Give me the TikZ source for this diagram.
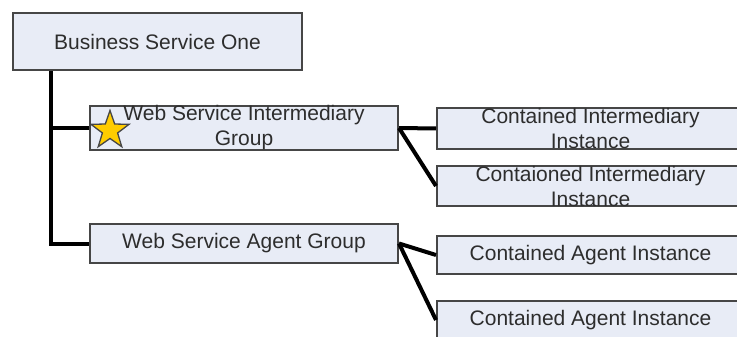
\documentclass[tikz,border=0pt]{standalone}
\usepackage{fontspec}
\setmainfont{Liberation Sans}
\usetikzlibrary{shapes.geometric}
\definecolor{boxfill}{RGB}{232,236,246}
\definecolor{boxline}{RGB}{70,70,70}
\definecolor{txt}{RGB}{45,45,45}
\definecolor{stargold}{RGB}{255,204,0}
\tikzset{
  tree box/.style={draw=boxline, line width=2pt, fill=boxfill, text=txt,
    align=center, inner sep=0pt, font=\fontsize{21}{25}\selectfont},
  conn/.style={draw=black, line width=4pt},
  flag/.style={star, star points=5, star point ratio=2.5, minimum size=40pt,
    inner sep=0pt, draw=boxline, line width=1.3pt, fill=stargold}
}
\begin{document}
\begin{tikzpicture}[x=1pt, y=-1pt]
  \useasboundingbox (0,0) rectangle (737,337);
  \clip (0,0) rectangle (737,337);
  \fill[white] (0,0) rectangle (737,337);

  % service hierarchy boxes
  \node[tree box, minimum width=289pt, minimum height=57pt] (bso) at (157.5,41.5) {Business Service One};
  \node[tree box, minimum width=308pt, minimum height=40pt] (wsig) at (244,128) {Web Service Intermediary\\Group};
  \node[tree box, minimum width=308pt, minimum height=39pt] (wsag) at (244,243.5) {Web Service Agent Group};
  \node[tree box, minimum width=307pt, minimum height=39pt] (cii1) at (590.5,128.5) {Contained Intermediary\\Instance};
  \node[tree box, minimum width=307pt, minimum height=38pt] (cii2) at (590.5,186) {Contaioned Intermediary\\Instance};
  \node[tree box, minimum width=307pt, minimum height=38pt] (cai1) at (590.5,255) {Contained Agent Instance};
  \node[tree box, minimum width=307pt, minimum height=38pt] (cai2) at (590.5,320) {Contained Agent Instance};

  % trunk from the business service down to the groups
  \coordinate (trunk) at ([xshift=39pt]bso.south west);
  \draw[conn] (trunk) |- (wsag.west);
  \draw[conn] (trunk |- wsig.west) -- (wsig.west);

  % groups to their instances
  \draw[conn] (wsig.east) -- (cii1.west);
  \draw[conn] (wsig.east) -- (cii2.west);
  \draw[conn] (wsag.east) -- (cai1.west);
  \draw[conn] (wsag.east) -- (cai2.west);

  % marker on the intermediary group
  \node[flag] (mark) at (110,130.5) {};
\end{tikzpicture}
\end{document}
